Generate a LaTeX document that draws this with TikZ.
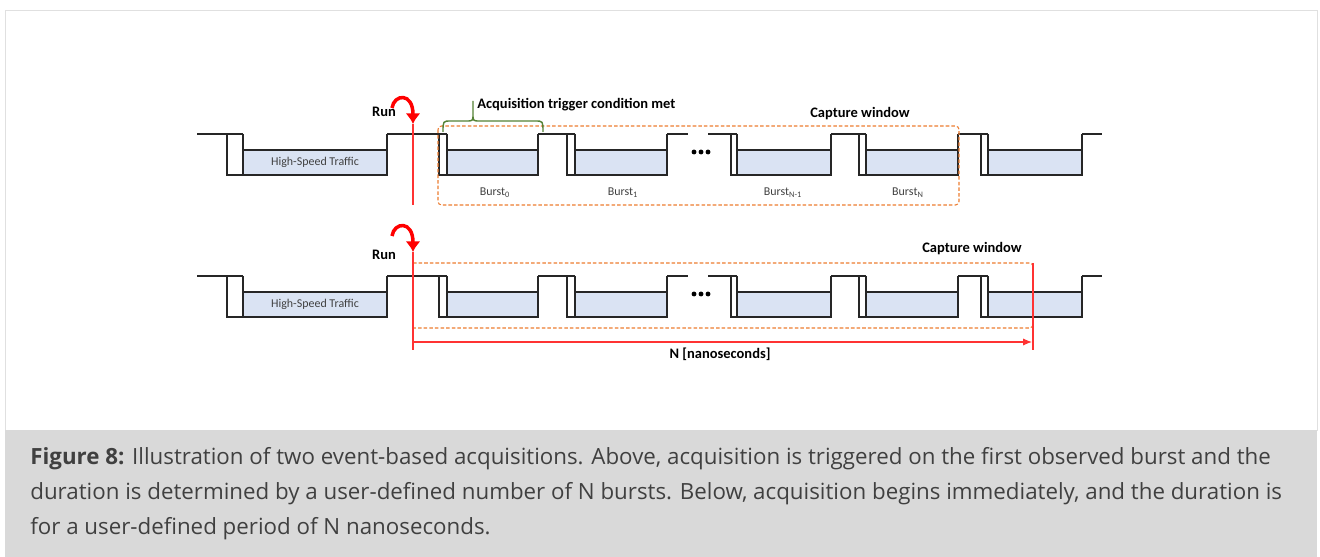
\documentclass[tikz,border=0pt]{standalone}
\usepackage{fontspec}
\setmainfont{Carlito}
\newfontfamily\capfont{Open Sans}
\usetikzlibrary{arrows.meta}
\definecolor{burstblue}{RGB}{218,227,243}
\definecolor{winorange}{RGB}{237,125,49}
\definecolor{trigreen}{RGB}{84,130,53}
\definecolor{capgray}{RGB}{217,217,217}
\definecolor{captext}{RGB}{64,64,64}

\begin{document}
\begin{tikzpicture}[x=0.02cm,y=-0.02cm,>=Latex,
  wave/.style={draw=black!85,line width=0.75pt},
  win/.style={draw=winorange,dash pattern=on 2pt off 1.2pt,line width=0.6pt,rounded corners=2pt},
  runline/.style={draw=red!80,line width=0.6pt},
  runcurl/.style={draw=red,line width=2pt,-{Latex[length=6pt,width=8.5pt]}},
  lbl/.style={font=\fontsize{8.25}{9}\selectfont\bfseries,inner sep=0pt},
  blbl/.style={font=\fontsize{6.8}{7.5}\selectfont,text=black!75,inner sep=0pt},
  captxt/.style={font=\capfont\fontsize{12.7}{15}\selectfont,text=captext,inner sep=0pt,anchor=base west}]
\useasboundingbox (0,0) rectangle (1320,557);
\draw[draw=black!12,fill=white] (5,10) rectangle (1317,430);
\fill[capgray] (5,430) rectangle (1317,557);

% the two traffic traces
\foreach \dy in {0,142}{
  \begin{scope}[shift={(0,\dy)}]
    \foreach \a/\b/\c in {227/243/387,439/447/538,567/575/667,731/737/831,859/866/958,981/988/1082}{
      \fill[burstblue] (\b,150) rectangle (\c,175);
      \draw[wave] (\a,134) -- (\a,175) -- (\c,175) -- (\c,134) (\b,134) -- (\b,175) (\b,150) -- (\c,150);
    }
    \foreach \s/\e in {197/243,387/447,538/575,667/688,708/737,831/866,958/988,1082/1102}
      \draw[wave] (\s,134) -- (\e,134);
    \foreach \x in {694,701,708}
      \fill (\x,152) circle[radius=1.4pt];
  \end{scope}
}
\node[blbl] (hst1) at (315,162) {High-Speed Traffic};
\node[blbl] (hst2) at (315,304) {High-Speed Traffic};

% above: N bursts
\draw[win] (438,126) rectangle (959,205);
\foreach \x/\n/\t in {495/b0/0,623/b1/1,783/bn1/{N-1},908/bn/N}
  \node[blbl] (\n) at (\x,193) {Burst\textsubscript{\t}};
\node[lbl] (cw1) at (860,114) {Capture window};
\node[lbl,anchor=west] (trig) at (477,105) {Acquisition trigger condition met};
\draw[trigreen,line width=0.8pt] (443,132) .. controls (443,121) .. (451,121) -- (466,121)
  .. controls (473,121) .. (473,114) -- (473,101) (473,114) .. controls (473,121) .. (480,121)
  -- (535,121) .. controls (543,121) .. (543,132);
\node[lbl] (run1) at (384,112) {Run};
\coordinate (tip1) at (413,124);
\draw[runline] (tip1) -- (413,205);
\draw[runcurl] (392,108) .. controls (394,94) and (413,92) .. (tip1);

% below: N nanoseconds
\draw[win] (413,263) -| (1033,328) -- (413,328);
\node[lbl] (cw2) at (972,249) {Capture window};
\node[lbl] (run2) at (384,255) {Run};
\coordinate (tip2) at (413,252);
\coordinate (nstart) at (413,342);
\coordinate (nend) at (1032,342);
\draw[runline] (tip2) -- (413,350);
\draw[runline] (1033,263) -- (1033,350);
\draw[runline,-{Latex[length=5pt,width=4pt]}] (nstart) -- (nend);
\draw[runcurl] (392,236) .. controls (394,222) and (413,220) .. (tip2);
\node[lbl] (nlbl) at (720,354) {N [nanoseconds]};

% caption
\node[captxt] (cap1) at (30,465) {\textbf{Figure 8:} Illustration of two event-based acquisitions. Above, acquisition is triggered on the first observed burst and the};
\node[captxt] (cap2) at (30,500) {duration is determined by a user-defined number of N bursts. Below, acquisition begins immediately, and the duration is};
\node[captxt] (cap3) at (30,535) {for a user-defined period of N nanoseconds.};
\end{tikzpicture}
\end{document}
